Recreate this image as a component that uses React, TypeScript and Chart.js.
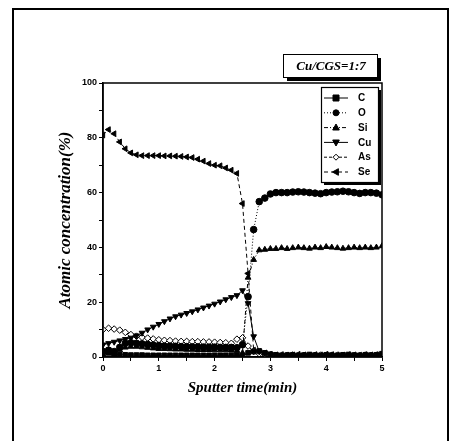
import React, { useEffect, useRef } from 'react';
import { Chart, registerables } from 'chart.js';

Chart.register(...registerables);

const times = [
  0, 0.1, 0.2, 0.3, 0.4, 0.5, 0.6, 0.7, 0.8, 0.9,
  1.0, 1.1, 1.2, 1.3, 1.4, 1.5, 1.6, 1.7, 1.8, 1.9,
  2.0, 2.1, 2.2, 2.3, 2.4, 2.5, 2.6, 2.7, 2.8, 2.9,
  3.0, 3.1, 3.2, 3.3, 3.4, 3.5, 3.6, 3.7, 3.8, 3.9,
  4.0, 4.1, 4.2, 4.3, 4.4, 4.5, 4.6, 4.7, 4.8, 4.9, 5.0,
];

const seriesC = [
  2, 1.5, 1, 0.8, 0.8, 0.7, 0.7, 0.7, 0.6, 0.6,
  0.6, 0.6, 0.6, 0.6, 0.6, 0.6, 0.6, 0.6, 0.6, 0.6,
  0.6, 0.6, 0.6, 0.6, 0.6, 0.5, 1.5, 2, 2.2, 1.5,
  1, 0.8, 0.6, 0.7, 0.8, 0.6, 0.7, 0.9, 0.7, 0.6,
  0.8, 0.7, 0.6, 0.8, 0.9, 0.7, 0.6, 0.8, 0.7, 0.8, 1.2,
];

const seriesO = [
  2, 2.5, 2, 3.5, 5, 5.2, 5, 4.8, 4.6, 4.4,
  4.2, 4, 4, 3.9, 3.8, 3.8, 3.7, 3.7, 3.6, 3.6,
  3.6, 3.5, 3.5, 3.5, 3.4, 4.5, 22, 46.5, 56.7, 58,
  59.5, 60, 60, 60, 60.2, 60.3, 60.2, 60, 59.8, 59.6,
  60, 60.2, 60.3, 60.5, 60.3, 60, 59.7, 60, 60, 59.8, 59.2,
];

const seriesSi = [
  1, 1.5, 1.2, 2.5, 3.5, 3.8, 3.8, 3.6, 3.4, 3.2,
  3, 3, 2.9, 2.8, 2.8, 2.7, 2.7, 2.6, 2.6, 2.6,
  2.5, 2.5, 2.5, 2.4, 2.2, 1.5, 29, 35.5, 39, 39.2,
  39.5, 39.5, 39.8, 39.5, 39.8, 40, 39.8, 39.6, 40, 39.8,
  40.2, 40, 39.8, 39.6, 39.8, 40, 39.8, 40, 39.8, 40, 40.5,
];

const seriesCu = [
  4.5, 5, 5.5, 6, 6.5, 7, 7.8, 8.8, 10, 11,
  12, 13, 14, 14.8, 15.4, 16, 16.6, 17.3, 18, 18.7,
  19.4, 20.2, 21, 21.8, 22.5, 24.3, 19.6, 7.5, 2, 1.5,
  1, 0.6, 0.5, 0.6, 0.5, 0.4, 0.6, 0.5, 0.5, 0.6,
  0.5, 0.4, 0.6, 0.5, 0.5, 0.6, 0.5, 0.4, 0.5, 0.6, 0.8,
];

const seriesAs = [
  10, 10.5, 10.2, 9.8, 9, 8.2, 7.6, 7.2, 6.9, 6.6,
  6.3, 6.1, 6, 5.8, 5.7, 5.7, 5.6, 5.6, 5.5, 5.5,
  5.4, 5.3, 5.2, 5, 6.5, 7, 4, 2, 1.2, 1,
  0.8, 0.6, 0.5, 0.6, 0.7, 0.5, 0.6, 0.5, 0.6, 0.7,
  0.6, 0.5, 0.6, 0.5, 0.6, 0.5, 0.6, 0.7, 0.5, 0.6, 0.7,
];

const seriesSe = [
  81, 83, 81.5, 78.5, 76, 74.5, 73.8, 73.5, 73.5, 73.5,
  73.5, 73.4, 73.4, 73.3, 73.2, 73, 72.8, 72.2, 71.5, 70.6,
  70, 69.8, 69, 68.2, 67, 56, 30.5, 2.5, 2, 1.5,
  1, 0.8, 0.9, 0.7, 0.8, 1, 0.8, 0.7, 0.9, 0.8,
  1, 0.9, 0.8, 0.7, 0.9, 0.8, 0.7, 0.9, 0.8, 0.9, 1,
];

const seriesNames = ['C', 'O', 'Si', 'Cu', 'As', 'Se'];
const yTicks = [0, 20, 40, 60, 80, 100];
const xTicks = [0, 1, 2, 3, 4, 5];
const boxLabel = 'Cu/CGS=1:7';
const xTitle = 'Sputter time(min)';
const yTitle = 'Atomic concentration(%)';

type Style = { dash: number[]; point: string; rot: number; fill: string };
const styles: Style[] = [
  { dash: [], point: 'rect', rot: 0, fill: '#000' },
  { dash: [1, 2], point: 'circle', rot: 0, fill: '#000' },
  { dash: [4, 2, 1, 2], point: 'triangle', rot: 0, fill: '#000' },
  { dash: [], point: 'triangle', rot: 180, fill: '#000' },
  { dash: [3, 2], point: 'rectRot', rot: 0, fill: '#fff' },
  { dash: [4, 3], point: 'triangle', rot: 270, fill: '#000' },
];

function drawMarker(ctx: CanvasRenderingContext2D, st: Style, x: number, y: number, r: number) {
  ctx.save();
  ctx.translate(x, y);
  ctx.rotate((st.rot * Math.PI) / 180);
  ctx.beginPath();
  if (st.point === 'rect') {
    ctx.rect(-r, -r, 2 * r, 2 * r);
  } else if (st.point === 'circle') {
    ctx.arc(0, 0, r, 0, Math.PI * 2);
  } else if (st.point === 'triangle') {
    ctx.moveTo(0, -r * 1.2);
    ctx.lineTo(r * 1.1, r * 0.8);
    ctx.lineTo(-r * 1.1, r * 0.8);
    ctx.closePath();
  } else {
    ctx.moveTo(0, -r);
    ctx.lineTo(r, 0);
    ctx.lineTo(0, r);
    ctx.lineTo(-r, 0);
    ctx.closePath();
  }
  ctx.fillStyle = st.fill;
  ctx.fill();
  ctx.lineWidth = 1;
  ctx.strokeStyle = '#000';
  ctx.setLineDash([]);
  ctx.stroke();
  ctx.restore();
}

const decorPlugin = {
  id: 'decor',
  afterDraw(chart: any) {
    const ctx: CanvasRenderingContext2D = chart.ctx;
    const a = chart.chartArea;
    ctx.save();
    ctx.strokeStyle = '#000';
    ctx.lineWidth = 1.5;
    ctx.setLineDash([]);
    ctx.strokeRect(a.left, a.top, a.right - a.left, a.bottom - a.top);

    const bx = 283, by = 54, bw = 94, bh = 23;
    ctx.fillStyle = '#000';
    ctx.fillRect(bx + 4, by + 4, bw, bh);
    ctx.fillStyle = '#fff';
    ctx.fillRect(bx, by, bw, bh);
    ctx.lineWidth = 1;
    ctx.strokeRect(bx + 0.5, by + 0.5, bw, bh);
    ctx.fillStyle = '#000';
    ctx.font = 'italic bold 13px "Liberation Serif", "Times New Roman", serif';
    ctx.textAlign = 'center';
    ctx.textBaseline = 'middle';
    ctx.fillText(boxLabel, bx + bw / 2 + 1, by + bh / 2 + 1);

    const lx = 321, ly = 87, lw = 57, lh = 95;
    ctx.fillStyle = '#000';
    ctx.fillRect(lx + 3, ly + 3, lw, lh);
    ctx.fillStyle = '#fff';
    ctx.fillRect(lx, ly, lw, lh);
    ctx.lineWidth = 1.2;
    ctx.strokeRect(lx + 0.5, ly + 0.5, lw, lh);

    ctx.font = 'bold 10px "Liberation Sans", Arial, sans-serif';
    ctx.textAlign = 'left';
    ctx.textBaseline = 'middle';
    seriesNames.forEach((name, i) => {
      const st = styles[i];
      const yy = 98 + i * 14.8;
      ctx.beginPath();
      ctx.setLineDash(st.dash);
      ctx.lineWidth = 1;
      ctx.strokeStyle = '#000';
      ctx.moveTo(324, yy);
      ctx.lineTo(348, yy);
      ctx.stroke();
      ctx.setLineDash([]);
      drawMarker(ctx, st, 336, yy, 3);
      ctx.fillStyle = '#000';
      ctx.fillText(name, 358, yy + 0.5);
    });
    ctx.restore();
  },
};

export default function App() {
  const ref = useRef<HTMLCanvasElement | null>(null);

  useEffect(() => {
    if (!ref.current) return;
    const all = [seriesC, seriesO, seriesSi, seriesCu, seriesAs, seriesSe];
    const datasets = all.map((vals, i) => {
      const st = styles[i];
      return {
        label: seriesNames[i],
        data: vals.map((v, k) => ({ x: times[k], y: v })),
        borderColor: '#000',
        backgroundColor: st.fill,
        borderWidth: 1,
        borderDash: st.dash,
        pointStyle: st.point,
        pointRotation: st.rot,
        pointRadius: 3.3,
        pointBorderWidth: 1,
        pointBorderColor: '#000',
        pointBackgroundColor: st.fill,
        tension: 0,
        fill: false,
      };
    });

    const tickFont = { family: '"Liberation Sans", Arial, sans-serif', size: 9, weight: 'bold' as const };
    const chart = new Chart(ref.current, {
      type: 'line',
      data: { datasets: datasets as any },
      plugins: [decorPlugin],
      options: {
        animation: false,
        responsive: false,
        events: [],
        layout: { padding: { left: 0, top: 83, right: 71, bottom: 0 } },
        plugins: { legend: { display: false }, tooltip: { enabled: false } },
        scales: {
          x: {
            type: 'linear',
            min: 0,
            max: 5,
            afterFit: (s: any) => { s.height = 84; },
            border: { color: '#000', width: 1.5 },
            grid: { drawOnChartArea: false, drawTicks: true, tickLength: 4, color: '#000' },
            ticks: {
              stepSize: 0.5,
              maxRotation: 0,
              autoSkip: false,
              color: '#000',
              padding: 2,
              font: tickFont,
              callback: (v: any) => (xTicks.includes(Number(v)) ? String(v) : ''),
            },
            title: {
              display: true,
              text: xTitle,
              color: '#000',
              font: { family: '"Liberation Serif", "Times New Roman", serif', size: 15, weight: 'bold', style: 'italic' },
              padding: { top: 0, bottom: 44 },
            },
          },
          y: {
            type: 'linear',
            min: 0,
            max: 100,
            afterFit: (s: any) => { s.width = 103; },
            border: { color: '#000', width: 1.5 },
            grid: { drawOnChartArea: false, drawTicks: true, tickLength: 4, color: '#000' },
            ticks: {
              stepSize: 10,
              autoSkip: false,
              color: '#000',
              padding: 2,
              font: tickFont,
              callback: (v: any) => (yTicks.includes(Number(v)) ? String(v) : ''),
            },
            title: {
              display: true,
              text: yTitle,
              color: '#000',
              font: { family: '"Liberation Serif", "Times New Roman", serif', size: 17, weight: 'bold', style: 'italic' },
              padding: { top: 55, bottom: 0 },
            },
          },
        },
      },
    } as any);
    return () => chart.destroy();
  }, []);

  return (
    <div style={{ position: 'fixed', left: 0, top: 0, width: 453, height: 441, background: '#fff' }}>
      <div
        style={{
          position: 'absolute',
          left: 12,
          top: 8,
          width: 437,
          height: 440,
          border: '2px solid #000',
          boxSizing: 'border-box',
        }}
      />
      <canvas ref={ref} width={453} height={441} style={{ position: 'absolute', left: 0, top: 0, display: 'block' }} />
    </div>
  );
}
